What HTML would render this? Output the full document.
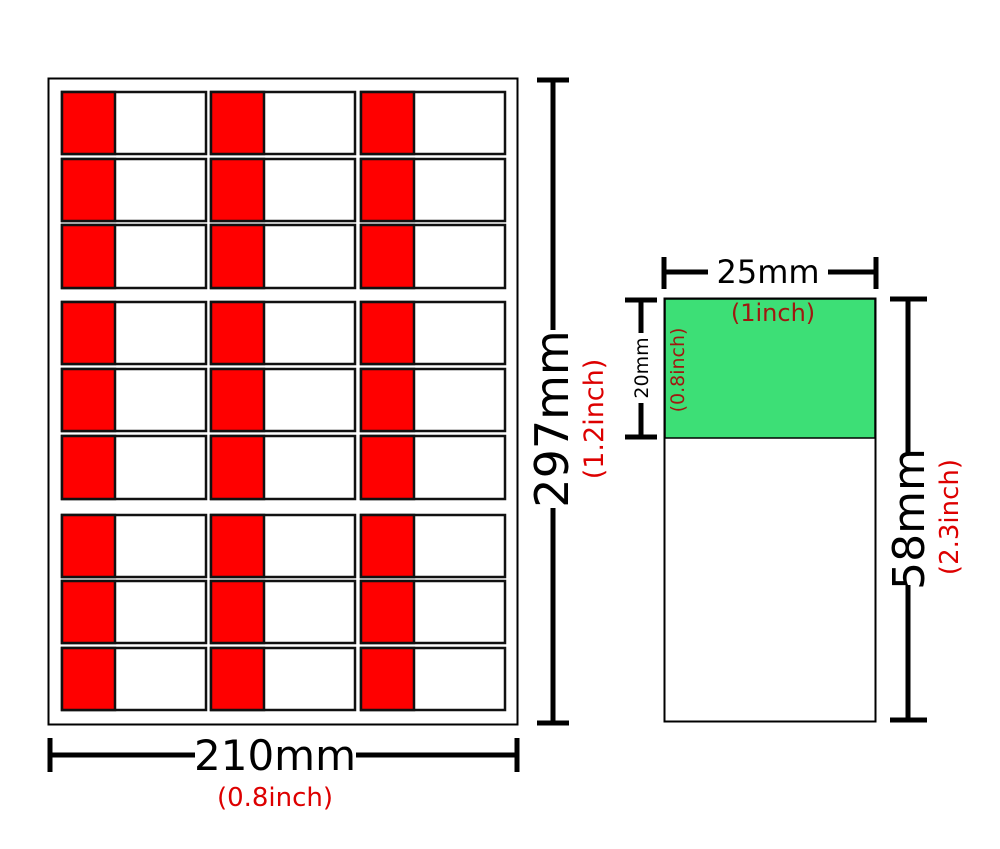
<!DOCTYPE html>
<html><head><meta charset="utf-8"><style>html,body{margin:0;padding:0;background:#fff}svg{display:block}</style></head>
<body>
<svg width="1000" height="849" viewBox="0 0 1000 849" xmlns="http://www.w3.org/2000/svg" font-family="'DejaVu Sans','Liberation Sans',sans-serif">
<rect x="48.5" y="78.5" width="469" height="646" fill="#fff" stroke="#000" stroke-width="2"/>
<g stroke="#111" stroke-width="2.5">
<rect x="62" y="92" width="144" height="62" fill="#fff"/><rect x="62" y="92" width="53" height="62" fill="#f00"/>
<rect x="211" y="92" width="144" height="62" fill="#fff"/><rect x="211" y="92" width="53" height="62" fill="#f00"/>
<rect x="361" y="92" width="144" height="62" fill="#fff"/><rect x="361" y="92" width="53" height="62" fill="#f00"/>
<rect x="62" y="159" width="144" height="62" fill="#fff"/><rect x="62" y="159" width="53" height="62" fill="#f00"/>
<rect x="211" y="159" width="144" height="62" fill="#fff"/><rect x="211" y="159" width="53" height="62" fill="#f00"/>
<rect x="361" y="159" width="144" height="62" fill="#fff"/><rect x="361" y="159" width="53" height="62" fill="#f00"/>
<rect x="62" y="225" width="144" height="63" fill="#fff"/><rect x="62" y="225" width="53" height="63" fill="#f00"/>
<rect x="211" y="225" width="144" height="63" fill="#fff"/><rect x="211" y="225" width="53" height="63" fill="#f00"/>
<rect x="361" y="225" width="144" height="63" fill="#fff"/><rect x="361" y="225" width="53" height="63" fill="#f00"/>
<rect x="62" y="302" width="144" height="62" fill="#fff"/><rect x="62" y="302" width="53" height="62" fill="#f00"/>
<rect x="211" y="302" width="144" height="62" fill="#fff"/><rect x="211" y="302" width="53" height="62" fill="#f00"/>
<rect x="361" y="302" width="144" height="62" fill="#fff"/><rect x="361" y="302" width="53" height="62" fill="#f00"/>
<rect x="62" y="369" width="144" height="62" fill="#fff"/><rect x="62" y="369" width="53" height="62" fill="#f00"/>
<rect x="211" y="369" width="144" height="62" fill="#fff"/><rect x="211" y="369" width="53" height="62" fill="#f00"/>
<rect x="361" y="369" width="144" height="62" fill="#fff"/><rect x="361" y="369" width="53" height="62" fill="#f00"/>
<rect x="62" y="436" width="144" height="63" fill="#fff"/><rect x="62" y="436" width="53" height="63" fill="#f00"/>
<rect x="211" y="436" width="144" height="63" fill="#fff"/><rect x="211" y="436" width="53" height="63" fill="#f00"/>
<rect x="361" y="436" width="144" height="63" fill="#fff"/><rect x="361" y="436" width="53" height="63" fill="#f00"/>
<rect x="62" y="515" width="144" height="62" fill="#fff"/><rect x="62" y="515" width="53" height="62" fill="#f00"/>
<rect x="211" y="515" width="144" height="62" fill="#fff"/><rect x="211" y="515" width="53" height="62" fill="#f00"/>
<rect x="361" y="515" width="144" height="62" fill="#fff"/><rect x="361" y="515" width="53" height="62" fill="#f00"/>
<rect x="62" y="581" width="144" height="62" fill="#fff"/><rect x="62" y="581" width="53" height="62" fill="#f00"/>
<rect x="211" y="581" width="144" height="62" fill="#fff"/><rect x="211" y="581" width="53" height="62" fill="#f00"/>
<rect x="361" y="581" width="144" height="62" fill="#fff"/><rect x="361" y="581" width="53" height="62" fill="#f00"/>
<rect x="62" y="648" width="144" height="62" fill="#fff"/><rect x="62" y="648" width="53" height="62" fill="#f00"/>
<rect x="211" y="648" width="144" height="62" fill="#fff"/><rect x="211" y="648" width="53" height="62" fill="#f00"/>
<rect x="361" y="648" width="144" height="62" fill="#fff"/><rect x="361" y="648" width="53" height="62" fill="#f00"/>
</g>
<g stroke="#000" stroke-width="5">
<line x1="553" y1="80" x2="553" y2="330"/><line x1="553" y1="508" x2="553" y2="723"/>
<line x1="537" y1="80" x2="569" y2="80"/><line x1="537" y1="723" x2="569" y2="723"/>
<line x1="50" y1="755" x2="195" y2="755"/><line x1="356" y1="755" x2="517" y2="755"/>
<line x1="50" y1="738" x2="50" y2="772"/><line x1="517" y1="738" x2="517" y2="772"/>
<line x1="664" y1="272" x2="708" y2="272"/><line x1="828" y1="272" x2="876" y2="272"/>
<line x1="664" y1="257" x2="664" y2="289"/><line x1="876" y1="257" x2="876" y2="289"/>
<line x1="641" y1="300" x2="641" y2="333"/><line x1="641" y1="403" x2="641" y2="437"/>
<line x1="625" y1="300" x2="657" y2="300"/><line x1="625" y1="437" x2="657" y2="437"/>
<line x1="908" y1="299" x2="908" y2="453"/><line x1="908" y1="585" x2="908" y2="720"/>
<line x1="890" y1="299" x2="927" y2="299"/><line x1="890" y1="720" x2="927" y2="720"/>
</g>
<rect x="664.5" y="298.5" width="211" height="423" fill="#fff" stroke="#000" stroke-width="2"/>
<rect x="665" y="299" width="210" height="139" fill="#3ddf76" stroke="#000" stroke-width="1.5"/>
<text x="275" y="770" font-size="42" text-anchor="middle" fill="#000">210mm</text>
<text x="275" y="806" font-size="26" text-anchor="middle" fill="#d00">(0.8inch)</text>
<text transform="translate(568,419) rotate(-90)" font-size="46" text-anchor="middle" fill="#000">297mm</text>
<text transform="translate(603,419) rotate(-90)" font-size="27" text-anchor="middle" fill="#d00">(1.2inch)</text>
<text x="768" y="283" font-size="32" text-anchor="middle" fill="#000">25mm</text>
<text x="773" y="321" font-size="24" text-anchor="middle" fill="#a01810">(1inch)</text>
<text transform="translate(648,368) rotate(-90)" font-size="19" text-anchor="middle" fill="#000">20mm</text>
<text transform="translate(684,370) rotate(-90)" font-size="19" text-anchor="middle" fill="#a01810">(0.8inch)</text>
<text transform="translate(924,519) rotate(-90)" font-size="44" text-anchor="middle" fill="#000">58mm</text>
<text transform="translate(958,517) rotate(-90)" font-size="26" text-anchor="middle" fill="#d00">(2.3inch)</text>
</svg>
</body></html>
